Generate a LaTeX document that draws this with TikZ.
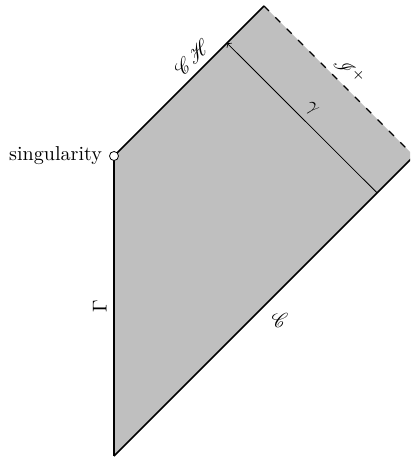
\documentclass[tikz,border=0pt]{standalone}
\usepackage{mathrsfs}
\usetikzlibrary{positioning,calc}
\begin{document}
\begin{tikzpicture}[x=1.75cm, y=1.75cm,
  bdry/.style ={thick},
  scri/.style ={line width=0.6pt, dash pattern=on 3.5pt off 4.5pt},
  ray/.style  ={thin, ->},
  lbl/.style  ={midway, sloped, above},
  sing/.style ={circle, draw, fill=white, inner sep=0pt, minimum size=4.5pt}]

\clip (-1.14,-3.03) rectangle (2.96,1.56);

%% -- corners of the region
\coordinate (B) at (0,-3);
\coordinate (S) at (0,0);
\coordinate (T) at (1.5,1.5);
\coordinate (R) at (3,0);

%% -- end points of the outgoing ray
\coordinate (g0) at ($(B)!0.877!(R)$);
\coordinate (g1) at ($(S)!0.753!(T)$);

\fill[lightgray] (B) -- (S) -- (T) -- (R) -- cycle;

%% -- boundaries
\draw[bdry] (B) -- node[lbl]{$\Gamma$} (S);
\draw[bdry] (S) -- node[lbl, pos=0.59]{$\mathscr{C}\mathscr{H}$} (T);
\draw[scri] (T) -- node[lbl]{$\mathscr{I}^+$} (R);
\draw[bdry] (B) -- node[below right]{$\mathscr{C}$} (R);

%% -- the ray gamma
\draw[ray] (g0) -- node[lbl]{$\gamma$} (g1);

\node[sing, label=left:singularity] (sing) at (S) {};
\end{tikzpicture}
\end{document}
